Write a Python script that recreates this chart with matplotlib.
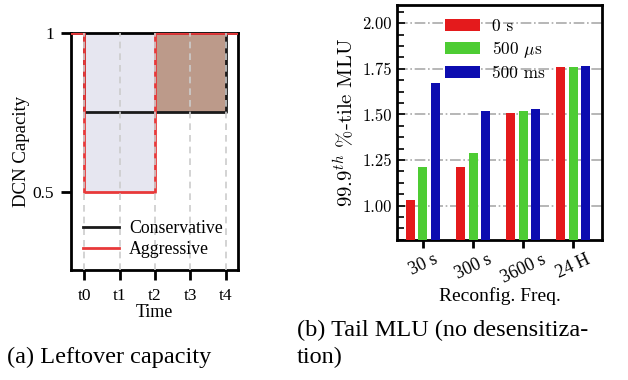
import numpy as np
import matplotlib
matplotlib.use("Agg")
import matplotlib.pyplot as plt
from matplotlib.ticker import AutoMinorLocator

plt.rcParams["font.family"] = ["Liberation Serif", "DejaVu Serif"]
plt.rcParams["mathtext.fontset"] = "cm"

# left panel data
time_ticks = ["t0", "t1", "t2", "t3", "t4"]
cons_x = [-0.4, 0, 4, 4, 4.4]
cons_y = [1.0, 0.75, 0.75, 1.0, 1.0]
aggr_x = [-0.4, 0, 2, 4.4]
aggr_y = [1.0, 0.5, 1.0, 1.0]

# right panel data
freqs = ["30 s", "300 s", "3600 s", "24 H"]
delays = ["0 s", r"500 $\mu$s", "500 ms"]
mlu = [
    [1.03, 1.21, 1.51, 1.76],
    [1.21, 1.29, 1.52, 1.76],
    [1.67, 1.52, 1.53, 1.765],
]
bar_colors = ["#e41a1c", "#4dcc33", "#0c0cb0"]

fig = plt.figure(figsize=(6.28, 3.8), dpi=100)

# (a) leftover capacity
ax1 = fig.add_axes([0.113, 0.289, 0.266, 0.624])
ax1.fill_between([0, 2], 0.5, 1.0, color="#e6e6f0", lw=0, zorder=1)
ax1.fill_between([2, 4], 0.75, 1.0, color="#bc9a8a", lw=0, zorder=1)
ax1.step(cons_x, cons_y, where="post", color="#1a1a1a", lw=2, label="Conservative", zorder=3)
ax1.step(aggr_x, aggr_y, where="post", color="#e8393a", lw=2, label="Aggressive", zorder=4)
for xv in range(5):
    ax1.axvline(xv, color="#cccccc", ls=(0, (4, 3)), lw=1.2, zorder=5)
ax1.set_xlim(-0.37, 4.34)
ax1.set_ylim(0.253, 1.0)
ax1.set_xticks(range(5))
ax1.set_xticklabels(time_ticks, fontsize=12.5)
ax1.set_yticks([0.5, 1.0])
ax1.set_yticklabels(["0.5", "1"], fontsize=12.5)
ax1.set_xlabel("Time", fontsize=13, labelpad=0)
ax1.set_ylabel("DCN Capacity", fontsize=13.5, labelpad=2)
ax1.tick_params(width=2, length=7, pad=5)
ax1.tick_params(axis="x", pad=6)
for s in ax1.spines.values():
    s.set_linewidth(2)
ax1.legend(loc="lower left", frameon=False, fontsize=12.8, handlelength=2.0,
           handletextpad=0.6, labelspacing=0.25, borderaxespad=0,
           bbox_to_anchor=(0.03, 0.02))

# (b) tail MLU
cm_font = {"family": "cmr10"}
ax2 = fig.add_axes([0.632, 0.368, 0.327, 0.619])
x = np.arange(len(freqs))
for i, (name, vals) in enumerate(zip(delays, mlu)):
    ax2.bar(x + (i - 1) * 0.25, vals, width=0.18, color=bar_colors[i], label=name, zorder=3)
ax2.set_xlim(-0.52, 3.58)
ax2.set_ylim(0.81, 2.10)
ax2.set_yticks([1.0, 1.25, 1.5, 1.75, 2.0])
ax2.set_yticklabels(["1.00", "1.25", "1.50", "1.75", "2.00"], fontdict=cm_font, fontsize=12)
ax2.yaxis.set_minor_locator(AutoMinorLocator(4))
ax2.set_xticks(x)
ax2.set_xticklabels(freqs, rotation=25, fontsize=13)
ax2.tick_params(axis="y", which="both", direction="in")
ax2.tick_params(axis="y", which="major", length=6, width=1.2)
ax2.tick_params(axis="y", which="minor", length=5, width=1.2)
ax2.tick_params(axis="x", length=6, width=2, pad=2)
ax2.grid(axis="y", color="#aaaaaa", ls="-.", lw=1.2, zorder=0)
ax2.set_xlabel("Reconfig. Freq.", fontsize=14, labelpad=0)
ax2.set_ylabel(r"99.9$^{th}$ %-tile MLU", fontdict=cm_font, fontsize=15, labelpad=4)
for s in ax2.spines.values():
    s.set_linewidth(2)
leg = ax2.legend(loc="upper left", frameon=False, fontsize=12.5, handlelength=2.0,
                 handleheight=0.7, handletextpad=0.7, labelspacing=0.3,
                 borderaxespad=0, bbox_to_anchor=(0.2, 0.97))
for t in leg.get_texts():
    t.set_fontfamily("cmr10")

fig.text(0.011, 0.045, "(a) Leftover capacity", fontsize=17.5)
fig.text(0.473, 0.115, "(b) Tail MLU (no desensitiza-", fontsize=17.5)
fig.text(0.473, 0.045, "tion)", fontsize=17.5)

fig.savefig("out.png", dpi=100)
